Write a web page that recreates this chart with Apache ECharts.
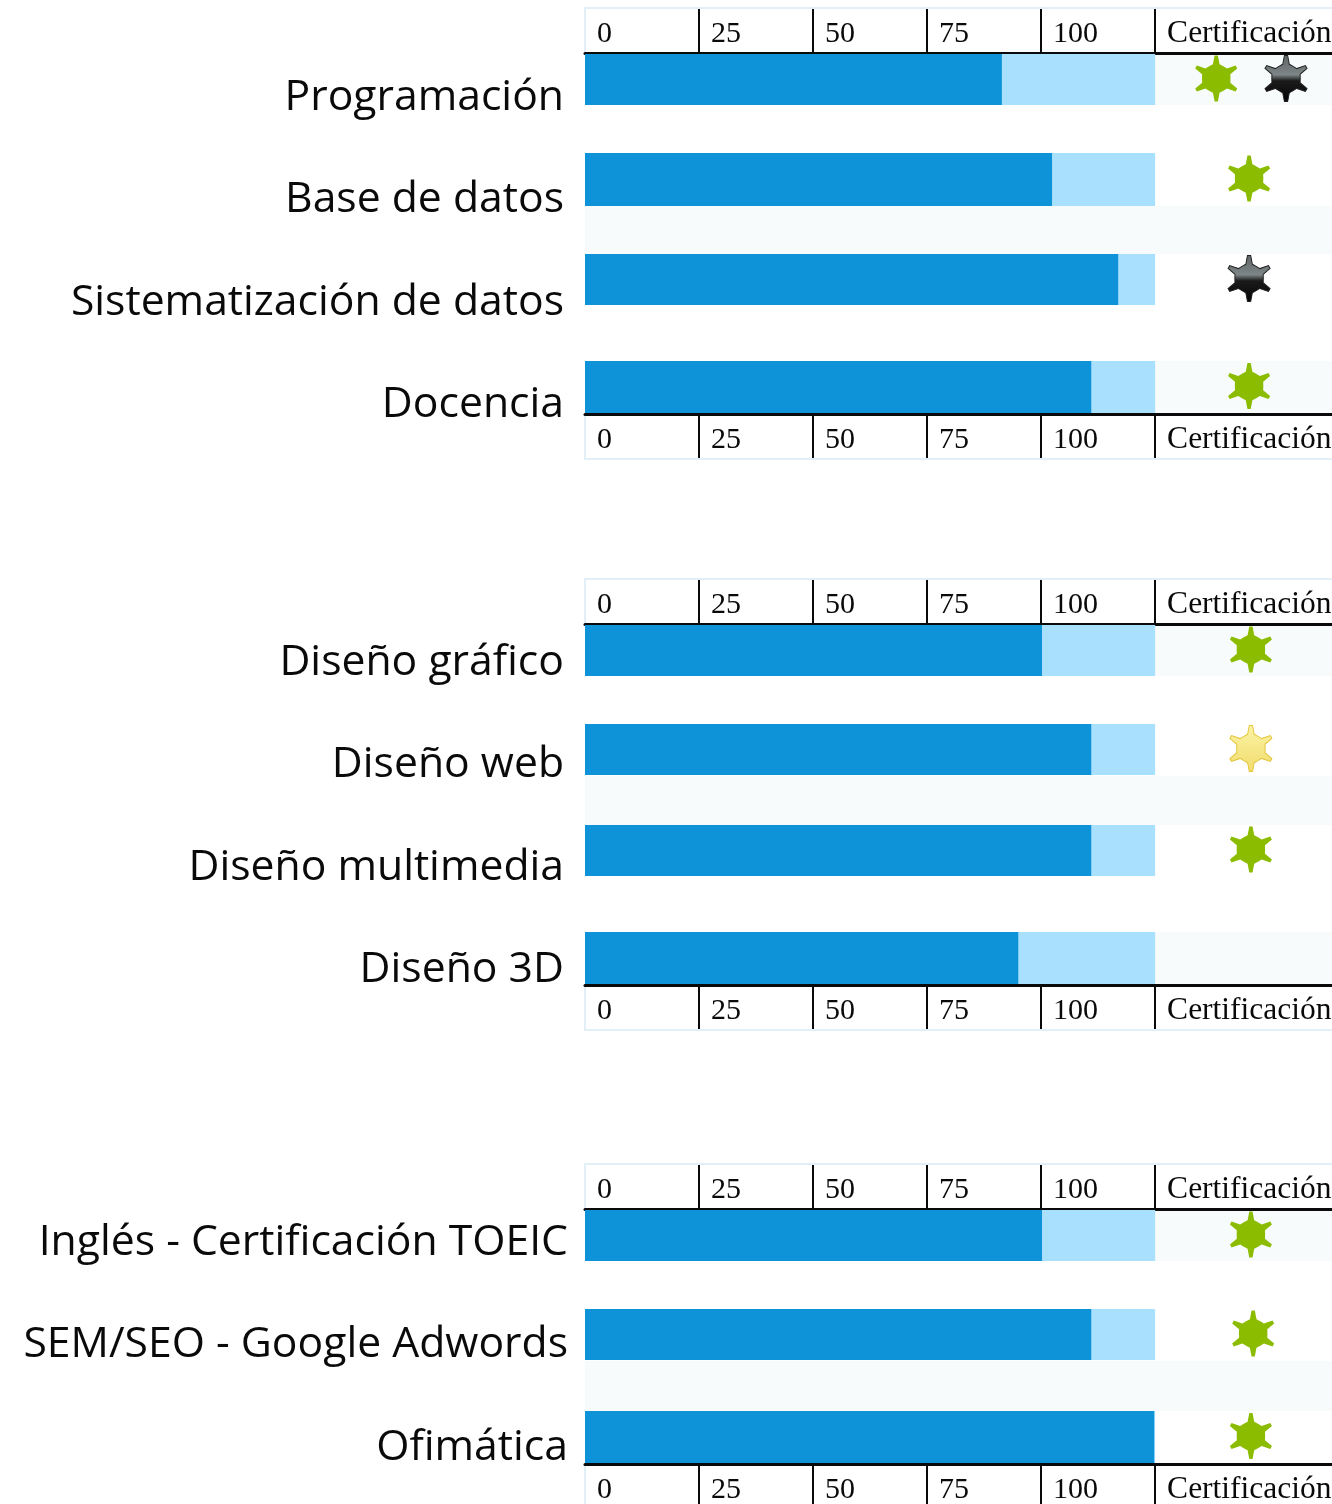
<!DOCTYPE html>
<html>
<head>
<meta charset="utf-8">
<style>
  html, body { margin: 0; padding: 0; background: #fff; }
  #chart { width: 1332px; height: 1504px; overflow: hidden; }
</style>
</head>
<body>
<div id="chart"></div>
<script src="https://cdn.jsdelivr.net/npm/echarts@6/dist/echarts.min.js"></script>
<script>
const skillNames = [
  "Programación", "Base de datos", "Sistematización de datos", "Docencia",
  "Diseño gráfico", "Diseño web", "Diseño multimedia", "Diseño 3D",
  "Inglés - Certificación TOEIC", "SEM/SEO - Google Adwords", "Ofimática",
];
const skillValues = [91.4, 102.4, 116.9, 111, 100.2, 111, 111, 95, 100.2, 111, 124.8];
const trackValues = [125, 125, 125, 125, 125, 125, 125, 125, 125, 125, 125];
// stars per row: [position, kind]
const certStars = [
  [[138.4, "green"], [153.7, "grey"]],
  [[145.6, "green"]],
  [[145.6, "grey"]],
  [[145.6, "green"]],
  [[146, "green"]],
  [[146, "yellow"]],
  [[146, "green"]],
  [],
  [[146, "green"]],
  [[146.5, "green"]],
  [[146, "green"]],
];
const tickValues = [0, 25, 50, 75, 100, 125];
const certLabel = "Certificación";

// layout only
const AXIS_MAX = 164;
const LEFT = 585;
const WIDTH = 748;
const rowLayout = [
  { top: 54, height: 51, dy: 18, gap: 21, shade: true },
  { top: 153, height: 53, dy: 20, gap: 21 },
  { top: 254, height: 51, dy: 23, gap: 21 },
  { top: 361, height: 52, dy: 18, gap: 21, shade: true },
  { top: 625, height: 51, dy: 12, gap: 21, shade: true },
  { top: 724, height: 51, dy: 15, gap: 21 },
  { top: 825, height: 51, dy: 17, gap: 21 },
  { top: 932, height: 52, dy: 12, gap: 21, shade: true },
  { top: 1210, height: 51, dy: 7, gap: 17, shade: true },
  { top: 1309, height: 51, dy: 10, gap: 17 },
  { top: 1411, height: 52, dy: 11, gap: 17 },
];
const headerTops = [8, 579, 1164];
const footerTops = [414, 985, 1464];
const stripeTops = [[206, 48], [776, 49], [1361, 50]];

const BAR_COLOR = "#0e93d8";
const TRACK_COLOR = "#a9e0fd";
const SHADE_COLOR = "#f8fbfc";
const FRAME_COLOR = "#e3eff6";
const INK = "#0a0a0a";

// six pointed sheriff star
const starPath = (() => {
  const pts = [];
  for (let i = 0; i < 6; i++) {
    const a = -90 + 60 * i;
    [[a - 30, 14], [a - 13, 14.5], [a - 4, 23], [a + 4, 23], [a + 13, 14.5]].forEach(([deg, r]) => {
      const rad = (deg * Math.PI) / 180;
      pts.push((r * Math.cos(rad)).toFixed(2) + " " + (r * Math.sin(rad)).toFixed(2));
    });
  }
  return "path://M" + pts.join("L") + "Z";
})();

const starStyles = {
  green: { color: "#8cbc00", opacity: 1 },
  grey: {
    color: new echarts.graphic.LinearGradient(0, 0, 0, 1, [
      { offset: 0, color: "#5f6465" },
      { offset: 0.42, color: "#7d8586" },
      { offset: 0.55, color: "#1a1a1a" },
      { offset: 1, color: "#050505" },
    ]),
    borderColor: "#222",
    borderWidth: 1,
    opacity: 1,
  },
  yellow: {
    color: new echarts.graphic.LinearGradient(0, 0, 0, 1, [
      { offset: 0, color: "#fbf3a6" },
      { offset: 1, color: "#f1dc6c" },
    ]),
    borderColor: "#e3c63a",
    borderWidth: 1,
    opacity: 1,
  },
};

const grid = [];
const xAxis = [];
const yAxis = [];
const series = [];

skillNames.forEach((name, i) => {
  const row = rowLayout[i];
  grid.push({ left: LEFT, top: row.top, width: WIDTH, height: row.height, outerBoundsMode: "none" });
  xAxis.push({ gridIndex: i, type: "value", min: 0, max: AXIS_MAX, show: false });
  yAxis.push({
    gridIndex: i,
    type: "category",
    data: [name],
    axisLine: { show: false },
    axisTick: { show: false },
    axisLabel: {
      color: INK,
      fontFamily: "Open Sans",
      fontSize: 42.7,
      margin: row.gap,
      verticalAlign: "top",
      lineHeight: row.dy * 2,
    },
  });
  series.push({
    type: "bar",
    xAxisIndex: i,
    yAxisIndex: i,
    data: [trackValues[i]],
    barWidth: "100%",
    barGap: "-100%",
    itemStyle: { color: TRACK_COLOR },
    silent: true,
  });
  series.push({
    type: "bar",
    xAxisIndex: i,
    yAxisIndex: i,
    data: [skillValues[i]],
    barWidth: "100%",
    barGap: "-100%",
    itemStyle: { color: BAR_COLOR },
    silent: true,
  });
  series.push({
    type: "scatter",
    xAxisIndex: i,
    yAxisIndex: i,
    symbol: starPath,
    symbolSize: [42, 46],
    symbolOffset: [0, -1],
    data: certStars[i].map(([x, kind]) => ({
      value: [x, name],
      itemStyle: starStyles[kind],
    })),
    silent: true,
  });
});

// scale strips above and below each block, ticks drawn into the strip
const addScale = (top, position) => {
  const idx = grid.length;
  grid.push({
    left: LEFT,
    top,
    width: WIDTH,
    height: 45,
    outerBoundsMode: "none",
    show: true,
    backgroundColor: "transparent",
    borderColor: FRAME_COLOR,
    borderWidth: 2,
  });
  xAxis.push({
    gridIndex: idx,
    type: "value",
    position,
    min: 0,
    max: AXIS_MAX,
    axisLine: { show: true, onZero: false, lineStyle: { color: INK, width: 3 } },
    axisTick: {
      show: true,
      inside: true,
      length: 44,
      customValues: tickValues.slice(1),
      lineStyle: { color: INK, width: 2 },
    },
    splitLine: { show: false },
    axisLabel: {
      inside: true,
      margin: position === "bottom" ? 2 : 9,
      align: "left",
      padding: [0, 0, 0, 12],
      customValues: tickValues,
      color: INK,
      fontFamily: "Liberation Serif",
      fontSize: 30,
      lineHeight: 34,
      formatter: (v) => (v === 125 ? "{c|" + certLabel + "}" : String(v)),
      rich: { c: { fontFamily: "Liberation Serif", fontSize: 31.5, lineHeight: 34, color: INK } },
    },
  });
  yAxis.push({ gridIndex: idx, type: "value", show: false });
};
headerTops.forEach((top) => addScale(top, "bottom"));
footerTops.forEach((top) => addScale(top, "top"));

const stripes = [];
rowLayout.forEach((row) => {
  if (row.shade) stripes.push({ x: 1155, y: row.top, w: 177, h: row.height });
});
stripeTops.forEach(([y, h]) => stripes.push({ x: LEFT, y, w: 747, h }));

const chartInstance = echarts.init(document.getElementById("chart"), null, { renderer: "canvas" });
chartInstance.setOption({
  animation: false,
  backgroundColor: "#fff",
  graphic: stripes.map((s) => ({
    type: "rect",
    z: -1,
    silent: true,
    shape: { x: s.x, y: s.y, width: s.w, height: s.h },
    style: { fill: SHADE_COLOR },
  })),
  grid,
  xAxis,
  yAxis,
  series,
});
</script>
</body>
</html>
